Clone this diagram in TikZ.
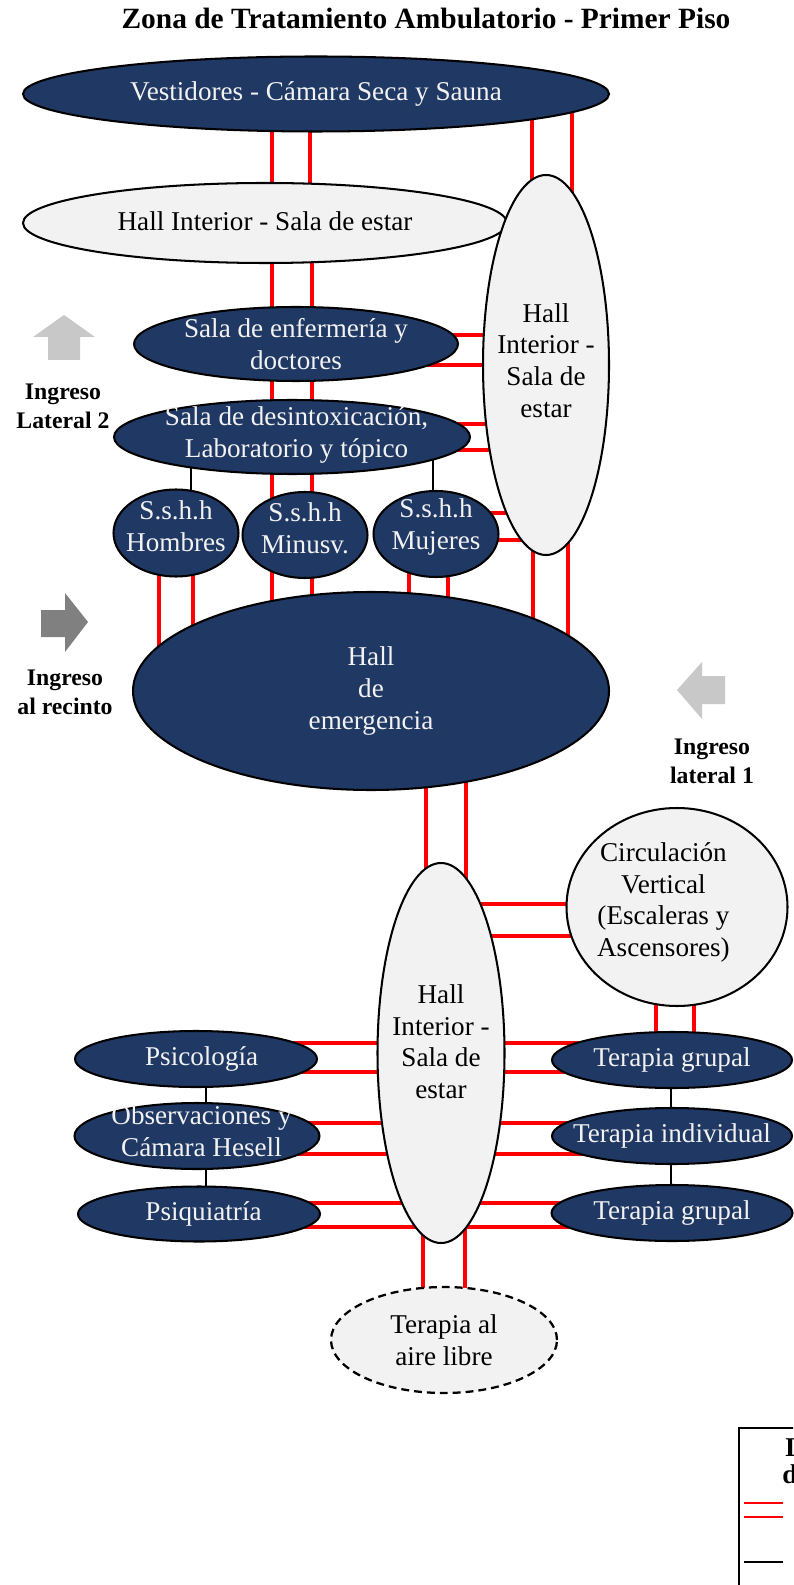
\documentclass[tikz,border=0pt]{standalone}
\usepackage{fontspec}
\setmainfont{Liberation Serif}
\usetikzlibrary{shapes.geometric,backgrounds}

\definecolor{navy}{HTML}{203864}
\definecolor{hallgray}{HTML}{F2F2F2}
\definecolor{entrylight}{HTML}{C8C8C8}
\definecolor{entrydark}{HTML}{808080}

\newcommand{\unitpx}{0.442pt}

\tikzstyle{room}=[ellipse, draw=black, line width=0.9pt, inner sep=0pt]
\tikzstyle{navy room}=[room, fill=navy]
\tikzstyle{hall room}=[room, fill=hallgray]
\tikzstyle{navy text}=[text=hallgray, align=center, font=\fontsize{12}{14}\selectfont]
\tikzstyle{hall text}=[text=black, align=center, font=\fontsize{12}{14}\selectfont]
\tikzstyle{pasillo}=[red, line width=2pt]
\tikzstyle{enlace}=[black, line width=0.5pt]
\tikzstyle{ingreso}=[font=\fontsize{10.5}{12.8}\selectfont\bfseries, align=center]
\tikzset{room size/.style 2 args={minimum width=#1*\unitpx, minimum height=#2*\unitpx}}

\begin{document}
\begin{tikzpicture}[x=\unitpx, y=-\unitpx]
	\useasboundingbox (0,0) rectangle (793,1585);

	\node[font=\fontsize{13}{15}\selectfont\bfseries] (titulo) at (426,18) {Zona de Tratamiento Ambulatorio - Primer Piso};

	% bloque superior
	\node[navy room, room size={586}{75}, label={[navy text]center:Vestidores - Cámara Seca y Sauna}] (vest) at (316,94) {};
	\node[hall room, room size={484}{80}, label={[hall text, yshift=1pt]center:Hall Interior - Sala de estar}] (hallint) at (265,223) {};
	\node[hall room, room size={126}{380}, label={[hall text, yshift=2pt]center:Hall\\Interior -\\Sala de\\estar}] (hallA) at (546,365) {};
	\node[navy room, room size={324}{74}, label={[navy text]center:Sala de enfermería y\\doctores}] (enf) at (296,344) {};
	\node[navy room, room size={356}{74}, label={[navy text, xshift=2pt, yshift=1pt]center:Sala de desintoxicación,\\Laboratorio y tópico}] (desint) at (292,437) {};
	\node[navy room, room size={125}{87}, label={[navy text, yshift=3pt]center:S.s.h.h\\Hombres}] (hombres) at (176,533) {};
	\node[navy room, room size={125}{86}, label={[navy text, yshift=3pt]center:S.s.h.h\\Minusv.}] (minusv) at (305,535) {};
	\node[navy room, room size={125}{86}, label={[navy text, yshift=3pt]center:S.s.h.h\\Mujeres}] (mujeres) at (436,534) {};
	\node[navy room, room size={476}{198}, label={[navy text]center:Hall\\de\\emergencia}] (emerg) at (371,691) {};

	% bloque inferior
	\node[hall room, room size={127}{380}, label={[hall text, yshift=5pt]center:Hall\\Interior -\\Sala de\\estar}] (hallB) at (441,1053) {};
	\node[hall room, room size={221}{198}, label={[hall text, xshift=-6pt, yshift=2pt]center:Circulación\\Vertical\\(Escaleras y\\Ascensores)}] (circ) at (677,907) {};
	\node[navy room, room size={240}{56}, label={[navy text]center:Terapia grupal}] (grupalA) at (672,1060) {};
	\node[navy room, room size={240}{56}, label={[navy text]center:Terapia individual}] (indiv) at (672,1136) {};
	\node[navy room, room size={241}{56}, label={[navy text]center:Terapia grupal}] (grupalB) at (672,1213) {};
	\node[navy room, room size={242}{56}, label={[navy text, xshift=2.5pt]center:Psicología}] (psico) at (196,1059) {};
	\node[navy room, room size={245}{66}, label={[navy text, xshift=2pt, yshift=2pt]center:Observaciones y\\Cámara Hesell}] (obs) at (197,1136) {};
	\node[navy room, room size={242}{55}, label={[navy text, xshift=2pt]center:Psiquiatría}] (psiq) at (199,1214) {};
	\node[hall room, dashed, dash pattern=on 3.5pt off 2.2pt, line width=1pt, room size={226}{106}, label={[hall text]center:Terapia al\\aire libre}] (aire) at (444,1340) {};

	\begin{scope}[on background layer]
		% pasillos verticales
		\foreach \desde/\hasta/\xa/\xb in {vest/hallint/272/310, hallint/enf/272/312, enf/desint/272/312, desint/minusv/272/312, minusv/emerg/272/312, vest/hallA/532/572, hallA/emerg/533/568, hombres/emerg/159/193, mujeres/emerg/409/448, emerg/hallB/426/466, circ/grupalA/656/694, hallB/aire/423/465}
			\draw[pasillo] (\xa,0 |- \desde) -- (\xa,0 |- \hasta) (\xb,0 |- \desde) -- (\xb,0 |- \hasta);
		% pasillos horizontales
		\foreach \desde/\hasta/\ya/\yb in {enf/hallA/335/365, desint/hallA/424/450, mujeres/hallA/513/540, hallB/circ/904/936, psico/hallB/1043/1072, hallB/grupalA/1043/1072, obs/hallB/1123/1154, hallB/indiv/1123/1154, psiq/hallB/1203/1227, hallB/grupalB/1203/1227}
			\draw[pasillo] (\desde |- 0,\ya) -- (\hasta |- 0,\ya) (\desde |- 0,\yb) -- (\hasta |- 0,\yb);
		% relaciones simples
		\foreach \desde/\hasta/\xc in {desint/hombres/191, desint/mujeres/433, psico/obs/206, obs/psiq/206, grupalA/indiv/671, indiv/grupalB/671}
			\draw[enlace] (\xc,0 |- \desde) -- (\xc,0 |- \hasta);
	\end{scope}

	% ingresos
	\fill[entrylight] (64,315) -- (95,337) -- (80,337) -- (80,360) -- (48,360) -- (48,337) -- (33,337) -- cycle;
	\fill[entrydark] (88,622) -- (65,593) -- (65,610) -- (41,610) -- (41,637) -- (65,637) -- (65,652) -- cycle;
	\fill[entrylight] (677,690) -- (702,662) -- (702,676) -- (725,676) -- (725,704) -- (702,704) -- (702,719) -- cycle;
	\node[ingreso] (lateral2) at (63,406) {Ingreso\\Lateral 2};
	\node[ingreso] (recinto) at (65,692) {Ingreso\\al recinto};
	\node[ingreso] (lateral1) at (712,761) {Ingreso\\lateral 1};

	% leyenda
	\begin{scope}
		\clip (0,0) rectangle (793,1585);
		\draw[line width=0.5pt] (739,1428) rectangle (1000,1700);
		\node[font=\fontsize{12}{8.84}\selectfont\bfseries, align=left, anchor=north west, inner sep=0pt] (leyenda) at (782,1437) {\hspace*{1.3pt}Leyenda\\de relaciones};
		\draw[red, line width=0.8pt] (744,1503) -- (783,1503) (744,1517) -- (783,1517);
		\draw[black, line width=0.6pt] (744,1562) -- (783,1562);
	\end{scope}
\end{tikzpicture}
\end{document}
